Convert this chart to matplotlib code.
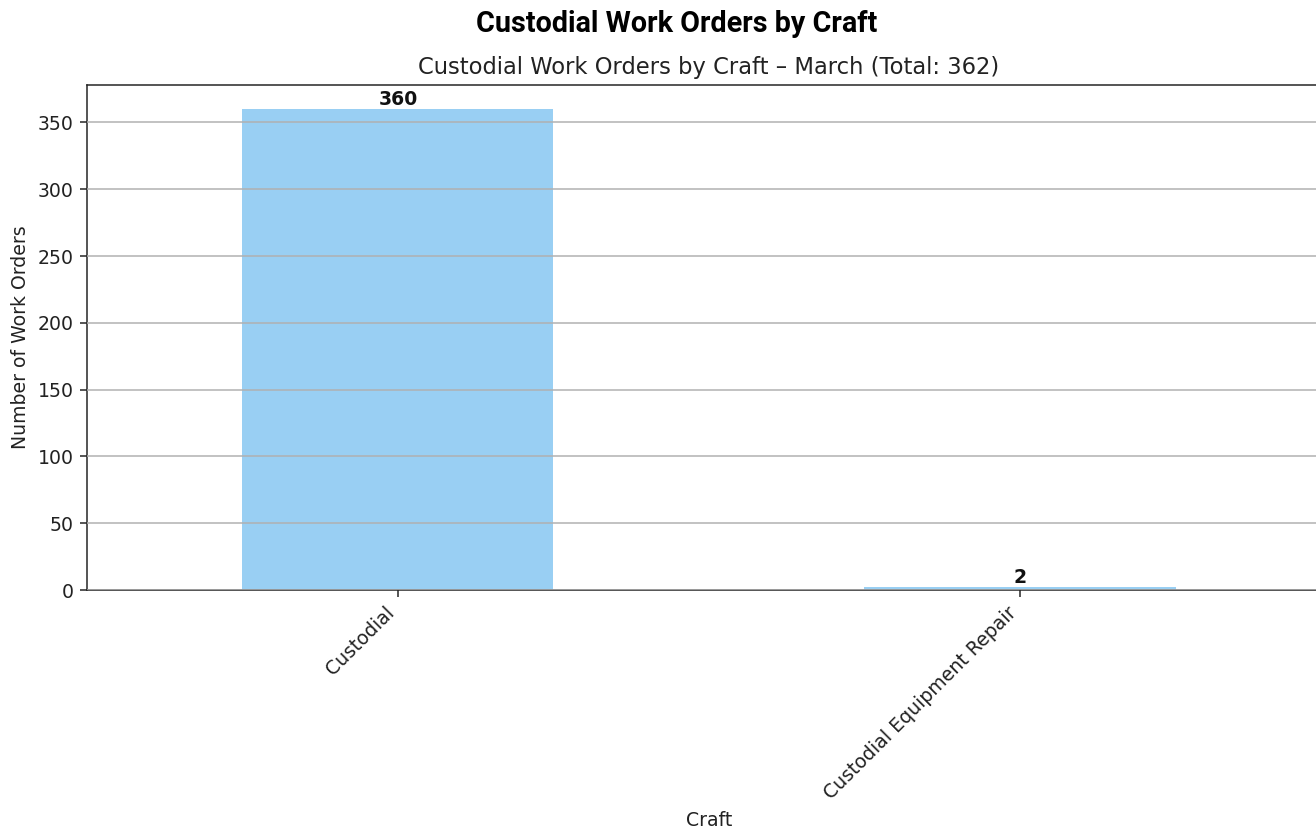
import matplotlib
matplotlib.use("Agg")
import matplotlib.pyplot as plt

# work order counts per craft for March
crafts = ["Custodial", "Custodial Equipment Repair"]
counts = [360, 2]
month = "March"
total = sum(counts)

fig = plt.figure(figsize=(1316 / 136, 830 / 136), dpi=136)
ax = fig.add_axes([0.0661, 0.289, 0.9453, 0.6086])

ax.bar(range(len(crafts)), counts, width=0.5, color="#99CFF3", zorder=1)
ax.set_xlim(-0.5, 1.5)
ax.set_ylim(0, max(counts) * 1.05)

# value labels on top of each bar
for i, c in enumerate(counts):
    ax.text(i, c, str(c), ha="center", va="bottom", fontsize=10, fontweight="bold",
            color="#111111")

ax.set_xticks(range(len(crafts)))
ax.set_xticklabels(crafts, rotation=45, ha="right")
ax.grid(axis="y", color="#b0b0b0", linewidth=0.8, zorder=2)
ax.set_axisbelow(False)
ax.tick_params(colors="#222222", labelcolor="#222222")
for s in ax.spines.values():
    s.set_color("#222222")

ax.set_xlabel("Craft", color="#222222")
ax.set_ylabel("Number of Work Orders", color="#222222")
ax.set_title(f"Custodial Work Orders by Craft \u2013 {month} (Total: {total})",
             fontsize=12, pad=6, color="#222222")

fig.suptitle("Custodial Work Orders by Craft", family="Roboto", fontweight="bold",
             fontsize=15.2, x=0.514, y=0.988, va="top")

fig.savefig("out.png", dpi=136)
